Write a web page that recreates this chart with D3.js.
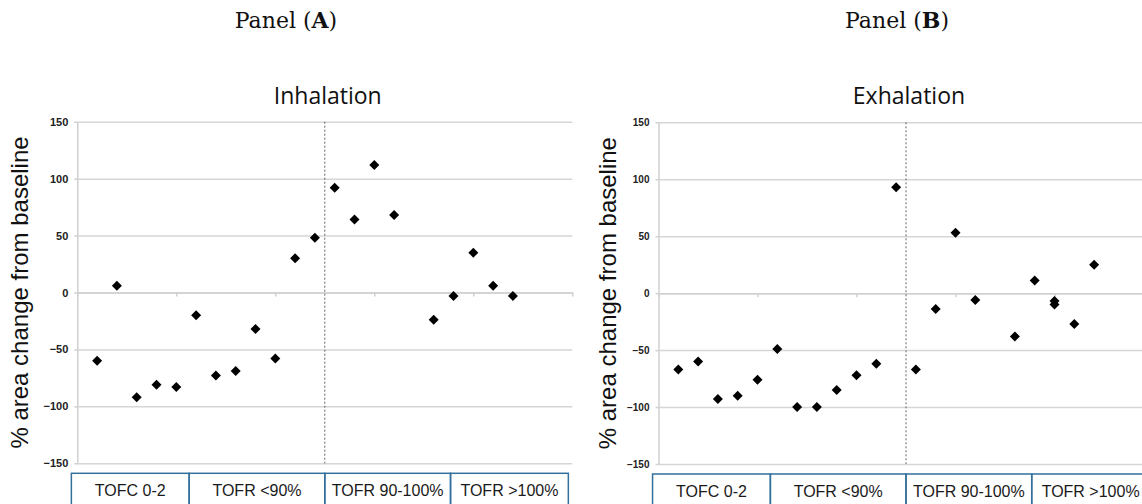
<!DOCTYPE html>
<html>
<head>
<meta charset="utf-8">
<script src="https://cdn.jsdelivr.net/npm/d3@7"></script>
<style>
  body { margin: 0; background: #fff; }
  svg { display: block; }
  .grid line { stroke: #d6d6d6; stroke-width: 1.5; }
  .grid path { display: none; }
  .yaxis path, .yaxis line, .xaxis path, .xaxis line { stroke: #d0d0d0; stroke-width: 1.5; }
  .yaxis text { font-family: "Liberation Sans", Arial, sans-serif; font-weight: bold; fill: #222; }
</style>
</head>
<body>
<div id="chart"></div>
<script>
// panel (A) - inhalation
var xIndexA = [1, 2, 3, 4, 5, 6, 7, 8, 9, 10, 11, 12, 13, 14, 15, 16, 18, 19, 20, 21, 22];
var valuesA = [-60, 6, -92, -81, -83, -20, -73, -69, -32, -58, 30, 48, 92, 64, 112, 68, -24, -3, 35, 6, -3];

// panel (B) - exhalation
var xIndexB = [1, 2, 3, 4, 5, 6, 7, 8, 9, 10, 11, 12, 13, 14, 15, 16, 18, 19, 20, 20, 21, 22];
var valuesB = [-67, -60, -93, -90, -76, -49, -100, -100, -85, -72, -62, 93, -67, -14, 53, -6, -38, 11, -7, -10, -27, 25];

var groupLabels = ["TOFC 0-2", "TOFR <90%", "TOFR 90-100%", "TOFR >100%"];
var groupBounds = [-0.3, 5.65, 12.5, 18.85, 24.8];
var yTicks = [-150, -100, -50, 0, 50, 100, 150];
var xTicks = [0, 5, 10, 15, 20, 25];
var dividerAt = 12.5;

var width = 1142;
var height = 504;

var svg = d3.select("#chart")
  .append("svg")
  .attr("width", width)
  .attr("height", height);

function renderPanel(cfg) {
  var x = d3.scaleLinear().domain([0, 25]).range([cfg.left, cfg.left + 495]);
  var y = d3.scaleLinear().domain([-150, 150]).range([cfg.bottom, cfg.top]);
  var plotW = 495;

  var g = svg.append("g");

  // panel heading
  var head = g.append("text")
    .attr("x", cfg.panelX)
    .attr("y", 28)
    .attr("text-anchor", "middle")
    .style("font-family", "'DejaVu Serif', serif")
    .style("font-size", "22px")
    .style("fill", "#111");
  head.append("tspan").text("Panel (");
  head.append("tspan").style("font-weight", "bold").text(cfg.letter);
  head.append("tspan").text(")");

  // gridlines
  g.append("g")
    .attr("class", "grid")
    .attr("transform", "translate(" + cfg.left + ",0)")
    .call(d3.axisLeft(y).tickValues(yTicks).tickSize(-plotW).tickFormat(""));

  // y axis
  var yAxis = g.append("g")
    .attr("class", "yaxis")
    .attr("transform", "translate(" + cfg.left + ",0)")
    .call(d3.axisLeft(y).tickValues(yTicks).tickSize(3).tickPadding(6).tickSizeOuter(0).tickFormat(d3.format("d")));
  yAxis.selectAll("text").style("font-size", cfg.tickFont);

  // x axis at zero
  g.append("g")
    .attr("class", "xaxis")
    .attr("transform", "translate(0," + y(0) + ")")
    .call(d3.axisBottom(x).tickValues(xTicks).tickSize(4).tickSizeOuter(0).tickFormat(""));

  // dotted divider
  g.append("line")
    .attr("x1", x(dividerAt)).attr("x2", x(dividerAt))
    .attr("y1", y(150)).attr("y2", y(-150))
    .attr("stroke", "#666")
    .attr("stroke-width", 1)
    .attr("stroke-dasharray", "2,2");

  // title
  g.append("text")
    .attr("x", x(12.65))
    .attr("y", 104)
    .attr("text-anchor", "middle")
    .style("font-family", "'Open Sans', sans-serif")
    .style("font-size", "23px")
    .style("fill", "#111")
    .text(cfg.title);

  // y label
  g.append("text")
    .attr("transform", "translate(" + cfg.labelX + "," + y(0) + ") rotate(-90)")
    .attr("text-anchor", "middle")
    .style("font-family", "'Liberation Sans', Arial, sans-serif")
    .style("font-size", "24px")
    .style("fill", "#111")
    .text("% area change from baseline");

  // points
  var pts = cfg.xs.map(function(d, i) { return { x: d, v: cfg.vs[i] }; });
  g.append("g")
    .selectAll("path")
    .data(pts)
    .join("path")
    .attr("d", d3.symbol().type(d3.symbolSquare).size(50))
    .attr("transform", function(d) { return "translate(" + x(d.x) + "," + y(d.v) + ") rotate(45)"; })
    .attr("fill", "#000");

  // group boxes
  var boxTop = y(-150) + 10;
  var groups = groupLabels.map(function(lab, i) {
    return { label: lab, x0: groupBounds[i], x1: groupBounds[i + 1] };
  });
  var box = g.append("g").selectAll("g").data(groups).join("g");
  box.append("rect")
    .attr("x", function(d) { return x(d.x0); })
    .attr("y", boxTop)
    .attr("width", function(d) { return x(d.x1) - x(d.x0); })
    .attr("height", 60)
    .attr("fill", "none")
    .attr("stroke", "#33709c")
    .attr("stroke-width", 1.5);
  box.append("text")
    .attr("x", function(d) { return (x(d.x0) + x(d.x1)) / 2; })
    .attr("y", boxTop + 23)
    .attr("text-anchor", "middle")
    .style("font-family", "'Liberation Sans', Arial, sans-serif")
    .style("font-size", "16px")
    .style("fill", "#1a1a1a")
    .text(function(d) { return d.label; });
}

renderPanel({ letter: "A", title: "Inhalation", left: 77.3, top: 121.7, bottom: 463.3,
  panelX: 286, labelX: 28, tickFont: "11px", xs: xIndexA, vs: valuesA });
renderPanel({ letter: "B", title: "Exhalation", left: 658.5, top: 122.3, bottom: 464,
  panelX: 897, labelX: 616, tickFont: "10px", xs: xIndexB, vs: valuesB });
</script>
</body>
</html>
